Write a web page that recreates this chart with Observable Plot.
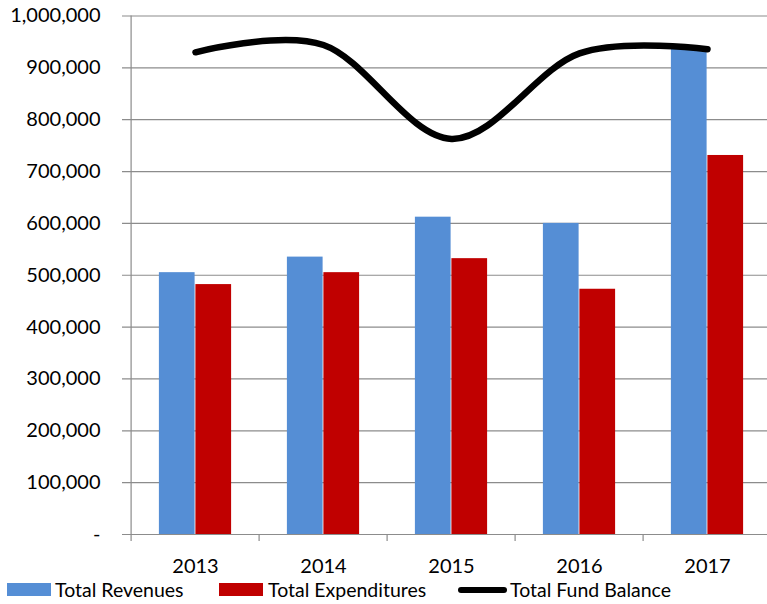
<!DOCTYPE html>
<html>
<head>
<meta charset="utf-8">
<script src="https://cdn.jsdelivr.net/npm/d3@7"></script>
<script src="https://cdn.jsdelivr.net/npm/@observablehq/plot@0.6"></script>
<style>
  html, body { margin: 0; padding: 0; background: #fff; }
  #wrap { position: relative; width: 767px; height: 604px; overflow: hidden; font-family: Lato, "Open Sans", sans-serif; }
  .lg { position: absolute; font-size: 19.5px; color: #000; line-height: 1; white-space: nowrap; }
  .sw { position: absolute; }
</style>
</head>
<body>
<div id="wrap"></div>
<script>
const years = ["2013", "2014", "2015", "2016", "2017"];
const revenues = [505000, 535000, 612000, 600000, 937000];
const expenditures = [482000, 505000, 532000, 473000, 731000];
const fundBalance = [930000, 944000, 763000, 928000, 936000];
const yTicks = [0, 100000, 200000, 300000, 400000, 500000, 600000, 700000, 800000, 900000, 1000000];
const seriesNames = ["Total Revenues", "Total Expenditures", "Total Fund Balance"];
const colors = ["#558ed5", "#c00000", "#000000"];

const W = 767, H = 604;
const mL = 129, mR = -6, mT = 15.5, mB = 70;
const bw = (W - mR - mL) / years.length;
const barW = 36.5;
const grid = "#8c8c8c";

const rows = years.map((year, i) => ({year, rev: revenues[i], exp: expenditures[i], fund: fundBalance[i]}));

const chart = Plot.plot({
  width: W, height: H,
  marginLeft: mL, marginRight: mR, marginTop: mT, marginBottom: mB,
  style: {fontFamily: "Lato, 'Open Sans', sans-serif", fontSize: "20px", color: "#000", background: "#fff"},
  x: {type: "band", domain: years, padding: 0, label: null},
  y: {domain: [0, 1000000], label: null},
  marks: [
    Plot.ruleY(yTicks, {y: d => d, stroke: grid, strokeWidth: 1.2, insetLeft: -7}),
    Plot.ruleX([years[0]], {x: d => d, dx: -bw / 2, stroke: grid, strokeWidth: 1.2}),
    Plot.ruleX(years, {x: d => d, dx: -bw / 2, stroke: grid, strokeWidth: 1.2, insetTop: H - mT - mB, insetBottom: -7}),
    Plot.barY(rows, {x: "year", y: "rev", fill: colors[0], insetLeft: bw / 2 - barW, insetRight: bw / 2}),
    Plot.barY(rows, {x: "year", y: "exp", fill: colors[1], insetLeft: bw / 2, insetRight: bw / 2 - barW}),
    Plot.line(rows, {x: "year", y: "fund", stroke: colors[2], strokeWidth: 6.5, curve: "cardinal", strokeLinecap: "round", strokeLinejoin: "round"}),
    Plot.axisY(yTicks, {tickSize: 0, tickPadding: 29, tickFormat: d => d === 0 ? "-" : d3.format(",")(d), fontSize: 20, fill: "#000", label: null}),
    Plot.axisX({tickSize: 0, tickPadding: 24, fontSize: 20, fill: "#000", label: null})
  ]
});

const wrap = document.getElementById("wrap");
chart.style.position = "absolute";
chart.style.left = "0px";
chart.style.top = "0px";
wrap.appendChild(chart);

// legend
const legendItems = [
  {name: seriesNames[0], color: colors[0], kind: "rect", sx: 7, tx: 55},
  {name: seriesNames[1], color: colors[1], kind: "rect", sx: 219, tx: 268},
  {name: seriesNames[2], color: colors[2], kind: "line", sx: 458, tx: 510}
];
for (const it of legendItems) {
  const sw = document.createElement("div");
  sw.className = "sw";
  sw.style.left = it.sx + "px";
  if (it.kind === "rect") {
    sw.style.top = "583px"; sw.style.width = "44px"; sw.style.height = "12.5px";
    sw.style.background = it.color;
  } else {
    sw.style.top = "586.5px"; sw.style.width = "49px"; sw.style.height = "6.5px";
    sw.style.background = it.color; sw.style.borderRadius = "3.5px";
  }
  wrap.appendChild(sw);
  const t = document.createElement("div");
  t.className = "lg";
  t.style.left = it.tx + "px";
  t.style.top = "579.5px";
  t.textContent = it.name;
  wrap.appendChild(t);
}
</script>
</body>
</html>
